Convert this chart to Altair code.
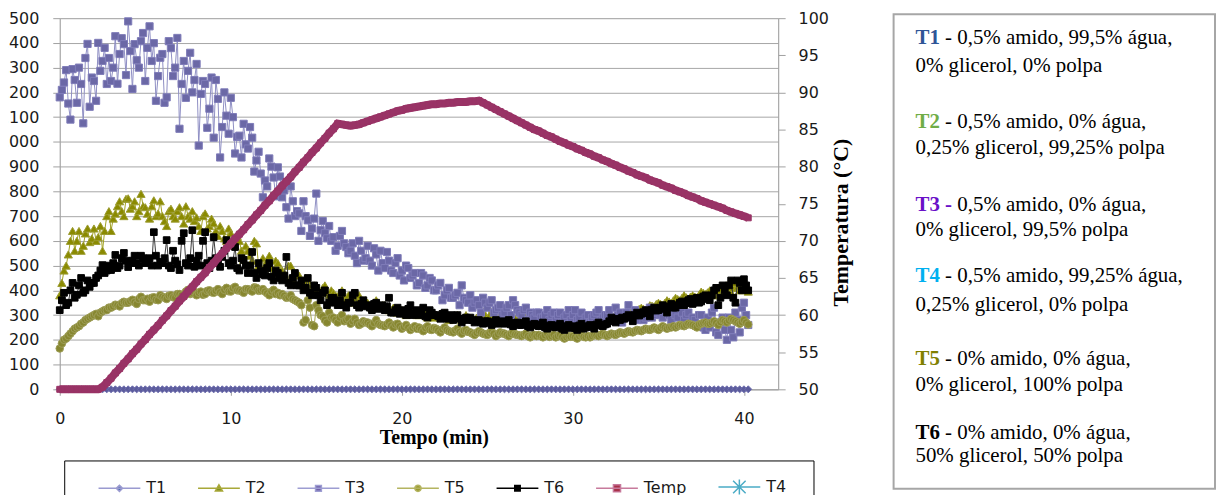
import altair as alt
import pandas as pd

# ---------------- data ----------------
N = 162
TIME = [i * 0.25 for i in range(N)]            # main readings, minutes
TIME_B = [0.125 + i * 0.25 for i in range(N - 1)]  # in-between readings, minutes

T1 = [0] * N

T2 = [380, 480, 545, 640,  600, 560, 630, 595,  650, 615, 560, 700,  640, 710, 760, 700,
      772, 740, 700, 790,  736, 690, 764, 711,  700, 660, 730, 690,  736, 670, 700, 720,
      695, 640, 711, 660,  671, 620, 640, 600,  631, 580, 600, 523,  560, 520, 590, 480,
      500, 540, 470, 510,  480, 450, 500, 430,  460, 420, 440, 400,  410, 390, 420, 380,
      390, 370, 400, 360,  370, 350, 380, 340,  350, 330, 360, 330,  340, 320, 330, 310,
      320, 300, 330, 310,  300, 320, 290, 310,  300, 290, 310, 280,  290, 300, 280, 300,
      290, 280, 300, 290,  338, 290, 280, 300,  290, 280, 300, 280,  285, 295, 280, 290,
      280, 270, 290, 280,  270, 280, 265, 275,  270, 260, 280, 270,  275, 265, 285, 280,
      290, 285, 300, 295,  310, 300, 320, 315,  330, 320, 340, 335,  350, 340, 360, 350,
      370, 360, 380, 365,  380, 370, 395, 385,  400, 380, 410, 390,  420, 390, 430, 400,
      410, 395]
T2_B = [430, 500, 600, 560,  640, 580, 650, 610,  600, 660, 640, 720,  690, 740, 720, 770,
        730, 760, 720, 740,  710, 740, 700, 760,  680, 720, 700, 720,  700, 740, 690, 680,
        660, 700, 650, 690,  640, 660, 610, 650,  600, 620, 560, 580,  540, 600, 500, 530,
        520, 490, 520, 480,  470, 500, 440, 470,  430, 450, 410, 420,  400, 410, 390, 400,
        380, 390, 370, 380,  360, 370, 350, 360,  340, 350, 330, 340,  330, 320, 320, 320,
        310, 320, 310, 300,  310, 300, 300, 290,  295, 300, 290, 290,  295, 290, 290, 285,
        285, 290, 295, 300,  300, 285, 290, 290,  285, 290, 285, 290,  290, 285, 285, 285,
        275, 280, 285, 275,  275, 270, 270, 270,  265, 270, 275, 272,  270, 275, 280, 285,
        288, 292, 298, 302,  305, 310, 318, 325,  325, 330, 338, 345,  345, 350, 355, 360,
        365, 370, 372, 375,  375, 382, 390, 392,  390, 395, 400, 405,  405, 410, 415, 420,
        405]

T3 = [1180, 1240, 1155, 1294,  1158, 1234, 1339, 1142,  1246, 1400, 1327, 1234,  1246, 1427, 1355, 1395,
      1487, 1214, 1330, 1407,  1246, 1467, 1399, 1266,  1355, 1180, 1379, 1300,  1053, 1327, 1287, 1200,
      1315, 1194, 1234, 1134,  1017, 1174, 1060, 1106,  1178, 953, 1025, 1073,  973, 1017, 925, 872,
      844, 933, 856, 897,  776, 736, 820, 700,  711, 760, 683, 650,  791, 643, 631, 660,
      615, 580, 640, 575,  560, 540, 600, 520,  580, 500, 545, 560,  490, 520, 470, 530,
      480, 500, 450, 470,  430, 460, 420, 440,  400, 430, 380, 410,  370, 390, 420, 360,
      380, 350, 340, 370,  330, 360, 320, 340,  310, 340, 360, 320,  300, 330, 310, 290,
      310, 290, 320, 300,  280, 310, 290, 320,  300, 280, 310, 290,  270, 300, 320, 290,
      300, 280, 330, 310,  290, 340, 300, 280,  310, 290, 330, 300,  320, 290, 310, 280,
      300, 330, 280, 310,  290, 260, 300, 240,  250, 330, 220, 290,  200, 240, 310, 230,
      350, 260]
T3_B = [1210, 1290, 1090, 1250,  1300, 1075, 1396, 1260,  1166, 1287, 1380, 1339,  1300, 1235, 1419, 1270,
        1367, 1395, 1300, 1440,  1380, 1327, 1166, 1340,  1158, 1407, 1266, 1420,  1234, 1178, 1360, 1250,
        985, 1246, 1057, 1260,  1250, 937, 1200, 1033,  1100, 1020, 937, 990,  1060, 880, 960, 776,
        820, 900, 780, 860,  804, 690, 760, 720,  640, 700, 620, 690,  600, 680, 610, 600,
        560, 620, 590, 550,  590, 510, 560, 530,  520, 570, 480, 510,  555, 480, 510, 460,
        440, 490, 460, 420,  470, 410, 450, 400,  420, 360, 400, 370,  380, 340, 370, 350,
        330, 360, 310, 350,  350, 310, 330, 300,  330, 300, 340, 310,  320, 280, 300, 310,
        290, 300, 280, 310,  300, 270, 300, 280,  320, 290, 270, 300,  290, 310, 280, 300,
        320, 290, 300, 270,  310, 290, 320, 300,  280, 320, 290, 310,  300, 330, 300, 320,
        290, 310, 300, 270,  280, 300, 250, 290,  310, 230, 270, 240,  290, 210, 280, 330,
        300]

T5 = [165, 200, 215, 235,  250, 265, 280, 290,  300, 295, 315, 320,  330, 342, 335, 354,
      350, 362, 345, 374,  360, 354, 372, 360,  374, 365, 380, 370,  385, 375, 402, 390,
      380, 395, 385, 400,  390, 405, 385, 410,  395, 414, 400, 390,  405, 395, 410, 400,
      395, 380, 402, 390,  385, 370, 380, 360,  350, 270, 360, 260,  340, 300, 280, 310,
      290, 270, 300, 280,  265, 285, 260, 275,  270, 255, 280, 260,  255, 270, 250, 265,
      245, 260, 240, 255,  250, 235, 255, 240,  245, 230, 250, 235,  230, 245, 225, 240,
      230, 220, 235, 225,  220, 235, 215, 230,  225, 215, 230, 220,  215, 225, 210, 220,
      220, 210, 225, 215,  210, 220, 205, 215,  215, 205, 220, 210,  210, 220, 215, 225,
      215, 225, 220, 230,  225, 235, 230, 240,  235, 245, 240, 250,  240, 255, 245, 250,
      250, 260, 255, 265,  260, 250, 265, 270,  265, 275, 260, 280,  270, 285, 275, 265,
      280, 262]
T5_B = [185, 205, 225, 245,  255, 270, 285, 295,  305, 310, 320, 330,  335, 340, 348, 350,
        356, 352, 365, 360,  366, 370, 362, 380,  370, 378, 372, 385,  380, 395, 385, 395,
        390, 382, 398, 392,  398, 392, 402, 396,  408, 400, 396, 405,  400, 412, 398, 405,
        388, 395, 385, 380,  378, 372, 365, 355,  340, 280, 330, 255,  320, 295, 270, 290,
        280, 290, 275, 285,  275, 270, 265, 270,  262, 268, 265, 258,  262, 258, 262, 255,
        252, 250, 248, 245,  242, 248, 242, 248,  238, 242, 240, 232,  238, 232, 236, 232,
        225, 228, 230, 222,  228, 225, 222, 226,  220, 224, 222, 218,  220, 215, 218, 215,
        215, 218, 212, 220,  215, 212, 210, 212,  210, 215, 212, 215,  215, 218, 220, 220,
        220, 222, 225, 228,  230, 232, 235, 238,  240, 242, 245, 245,  248, 250, 250, 255,
        255, 258, 260, 262,  255, 262, 268, 265,  270, 268, 272, 275,  278, 280, 270, 272,
        270]

T6 = [320, 390, 350, 430,  382, 450, 400, 414,  430, 460, 502, 480,  482, 543, 500, 551,
      494, 520, 510, 540,  510, 530, 635, 500,  510, 603, 490, 520,  482, 631, 500, 643,
      520, 500, 635, 490,  615, 510, 535, 603,  500, 575, 480, 523,  470, 555, 450, 480,
      460, 510, 440, 470,  440, 535, 420, 470,  420, 400, 450, 380,  410, 360, 400, 350,
      370, 340, 390, 330,  350, 390, 330, 360,  340, 320, 350, 330,  320, 370, 310, 330,
      320, 300, 340, 310,  300, 330, 290, 310,  300, 285, 310, 290,  280, 300, 270, 290,
      290, 270, 280, 265,  275, 260, 280, 270,  265, 280, 255, 270,  260, 275, 250, 265,
      255, 270, 245, 260,  250, 265, 240, 260,  255, 240, 265, 250,  260, 245, 270, 255,
      265, 290, 270, 280,  285, 300, 275, 310,  305, 320, 295, 330,  320, 340, 310, 345,
      330, 350, 340, 360,  345, 370, 355, 380,  360, 400, 340, 420,  380, 440, 350, 430,
      445, 400]
T6_B = [360, 340, 400, 370,  420, 390, 440, 430,  450, 480, 470, 500,  510, 490, 530, 520,
        510, 540, 500, 530,  520, 500, 540, 515,  530, 500, 560, 505,  600, 510, 530, 495,
        540, 600, 510, 520,  530, 495, 560, 510,  520, 490, 530, 500,  500, 470, 510, 465,
        490, 455, 480, 450,  460, 430, 450, 420,  440, 410, 390, 420,  380, 390, 340, 370,
        350, 360, 340, 350,  380, 340, 345, 335,  330, 345, 325, 340,  335, 310, 320, 305,
        315, 325, 300, 320,  315, 295, 320, 300,  295, 305, 285, 300,  295, 285, 285, 280,
        280, 275, 270, 275,  268, 272, 265, 275,  272, 262, 268, 260,  268, 255, 262, 258,
        262, 250, 258, 252,  258, 245, 255, 248,  248, 258, 245, 255,  252, 262, 258, 262,
        275, 280, 285, 290,  292, 290, 300, 298,  312, 308, 322, 318,  330, 325, 335, 330,
        340, 355, 348, 365,  360, 350, 375, 365,  380, 410, 370, 400,  420, 370, 440, 400,
        420]

TEMP = [50.0, 50.0, 50.0, 50.0,  50.0, 50.0, 50.0, 50.0,  50.0, 50.0, 50.3, 50.9,  51.5, 52.2, 52.8, 53.5,
        54.1, 54.8, 55.4, 56.1,  56.7, 57.4, 58.0, 58.6,  59.3, 59.9, 60.6, 61.2,  61.9, 62.5, 63.2, 63.8,
        64.5, 65.1, 65.7, 66.4,  67.0, 67.7, 68.3, 69.0,  69.6, 70.3, 70.9, 71.5,  72.2, 72.8, 73.5, 74.1,
        74.8, 75.4, 76.1, 76.7,  77.4, 78.0, 78.6, 79.3,  79.9, 80.6, 81.2, 81.9,  82.5, 83.2, 83.8, 84.5,
        85.1, 85.8, 85.7, 85.6,  85.5, 85.6, 85.7, 85.9,  86.1, 86.3, 86.5, 86.7,  86.9, 87.1, 87.3, 87.5,
        87.6, 87.8, 87.9, 88.0,  88.1, 88.2, 88.3, 88.4,  88.4, 88.5, 88.5, 88.6,  88.6, 88.7, 88.7, 88.7,
        88.8, 88.8, 88.9, 88.6,  88.3, 88.0, 87.7, 87.4,  87.1, 86.8, 86.5, 86.2,  85.9, 85.6, 85.3, 85.0,
        84.8, 84.5, 84.2, 84.0,  83.7, 83.4, 83.2, 82.9,  82.7, 82.4, 82.2, 81.9,  81.7, 81.4, 81.2, 80.9,
        80.7, 80.4, 80.2, 79.9,  79.7, 79.4, 79.2, 78.9,  78.7, 78.5, 78.2, 78.0,  77.8, 77.5, 77.3, 77.1,
        76.8, 76.6, 76.4, 76.1,  75.9, 75.7, 75.4, 75.2,  75.0, 74.8, 74.6, 74.4,  74.1, 73.9, 73.7, 73.5,
        73.3, 73.1]

LEGEND_NAMES = ["T1", "T2", "T3", "T5", "T6", "Temp", "T4"]
X_TICKS = [0, 10, 20, 30, 40]
LEFT_TICKS = list(range(0, 1501, 100))
RIGHT_TICKS = list(range(50, 101, 5))

TREATMENTS = [
    ("T1", "- 0,5% amido, 99,5% água,", "0% glicerol, 0% polpa"),
    ("T2", "- 0,5% amido, 0% água,", "0,25% glicerol, 99,25% polpa"),
    ("T3 -", "0,5% amido, 0% água,", "0% glicerol, 99,5% polpa"),
    ("T4", "- 0,5% amido, 99,25% água,", "0,25% glicerol, 0% polpa"),
    ("T5", "- 0% amido, 0% água,", "0% glicerol, 100% polpa"),
    ("T6", "- 0% amido, 0% água,", "50% glicerol, 50% polpa"),
]

# ---------------- styles ----------------
AXIS_GRAY = "#a0a0a0"
TICK_FONT = "DejaVu Sans"
SERIF = "Liberation Serif"

STYLE = {
    "T1": dict(line="#6e6eae", lw=4, shape="diamond", fill="#5c5c9c", stroke="#6e6eae", size=50),
    "T2": dict(line="#a0a020", lw=1.0, shape="triangle-up", fill="#8a8a00", stroke="#9c9c30", size=68),
    "T3": dict(line="#8e8ec4", lw=1.0, shape="square", fill="#6b68a6", stroke="#7f7cb8", size=52),
    "T5": dict(line="#a4a450", lw=1.0, shape="circle", fill="#878730", stroke="#9d9d58", size=58),
    "T6": dict(line="#3a3a3a", lw=1.0, shape="square", fill="#000000", stroke="#000000", size=45),
}
TEMP_STYLE = dict(line="#993366", lw=8, fill="#993366", stroke="#993366", size=36)

# legend symbols (line + marker), custom paths in [-1, 1]
LEG_SHAPE = ["M-1,0L1,0M0,-0.15L0.15,0L0,0.15L-0.15,0Z",
             "M-1,0L1,0M0,-0.17L0.17,0.13L-0.17,0.13Z",
             "M-1,0L1,0M-0.14,-0.14L0.14,-0.14L0.14,0.14L-0.14,0.14Z",
             "M-1,0L1,0M0.15,0A0.15,0.15,0,1,1,-0.15,0A0.15,0.15,0,1,1,0.15,0Z",
             "M-1,0L1,0M-0.13,-0.13L0.13,-0.13L0.13,0.13L-0.13,0.13Z",
             "M-1,0L1,0M-0.17,-0.17L0.17,-0.17L0.17,0.17L-0.17,0.17Z",
             "M-1,0L1,0M0,-0.36L0,0.36M-0.3,-0.3L0.3,0.3M-0.3,0.3L0.3,-0.3"]
LEG_STROKE = ["#9a9ad0", "#a8a838", "#9d9dd2", "#b4b460", "#000000", "#c77a9c", "#4bacc6"]
LEG_FILL = ["#4f6fb0", "#7f8f20", "#6f60a8", "#9a9a30", "#000000", "#a83048", "transparent"]
LEG_SW = [1.5, 1.5, 1.5, 1.5, 1.5, 1.5, 4]

# ---------------- axes ----------------
x_axis = alt.Axis(values=X_TICKS, title="Tempo (min)", grid=False, domainColor=AXIS_GRAY,
                  tickColor=AXIS_GRAY, tickSize=6, labelPadding=15, labelFont=TICK_FONT,
                  labelFontSize=16, labelColor="#1a1a1a", labelFlush=False, labelOverlap=False,
                  titleFont=SERIF, titleFontSize=20, titleFontWeight="bold", titleColor="#000000",
                  titleX=376, titleY=54, titleBaseline="alphabetic", titleAlign="center")
left_axis = alt.Axis(values=LEFT_TICKS, title=None, grid=True, gridColor="#a6a6a6", gridWidth=1,
                     domainColor=AXIS_GRAY, tickColor=AXIS_GRAY, tickSize=7, labelPadding=14,
                     labelFont=TICK_FONT, labelFontSize=16, labelColor="#1a1a1a",
                     labelOverlap=False, labelFlush=False)
right_axis = alt.Axis(orient="right", values=RIGHT_TICKS, grid=False, title="Temperatura (°C)",
                      domainColor=AXIS_GRAY, tickColor=AXIS_GRAY, tickSize=7, labelPadding=13,
                      labelFont=TICK_FONT, labelFontSize=16, labelColor="#1a1a1a",
                      labelOverlap=False, labelFlush=False,
                      titleFont=SERIF, titleFontSize=22, titleFontWeight="bold", titleColor="#000000",
                      titleAngle=270, titleX=70, titleY=205, titleAlign="center",
                      titleBaseline="alphabetic")

xs = alt.Scale(domain=[0, 42], nice=False, zero=False)
ys_left = alt.Scale(domain=[0, 1500], nice=False)
ys_right = alt.Scale(domain=[50, 100], nice=False, zero=False)

legend = alt.Legend(
    orient="none", legendX=38, legendY=449, direction="horizontal", columns=7, title=None,
    symbolSize=1764, labelOffset=5, columnPadding=29, padding=0, labelFont=TICK_FONT,
    labelFontSize=16, labelColor="#1a1a1a", symbolLimit=0, symbolOpacity=1,
)

# ---------------- left-axis series ----------------
SERIES = {"T1": (T1, None), "T2": (T2, T2_B), "T3": (T3, T3_B), "T5": (T5, T5_B), "T6": (T6, T6_B)}
left_layers = []
for name in ["T1", "T2", "T3", "T5", "T6"]:
    st = STYLE[name]
    a, b = SERIES[name]
    df = pd.DataFrame({"t": TIME, "v": a})
    if b is not None:
        df = pd.concat([df, pd.DataFrame({"t": TIME_B, "v": b})]).sort_values("t")
    base = alt.Chart(df)
    line = base.mark_line(color=st["line"], strokeWidth=st["lw"]).encode(
        x=alt.X("t:Q", scale=xs, axis=x_axis),
        y=alt.Y("v:Q", scale=ys_left, axis=left_axis),
        order="t:Q",
    )
    pts = base.mark_point(shape=st["shape"], filled=True, fill=st["fill"], stroke=st["stroke"],
                          strokeWidth=1, size=st["size"], opacity=1).encode(
        x=alt.X("t:Q", scale=xs, axis=x_axis),
        y=alt.Y("v:Q", scale=ys_left, axis=left_axis),
    )
    left_layers += [line, pts]

left = alt.layer(*left_layers)

# ---------------- right-axis temperature ----------------
temp_df = pd.DataFrame({"t": TIME, "temp": TEMP})
tbase = alt.Chart(temp_df)
right = alt.layer(
    tbase.mark_line(color=TEMP_STYLE["line"], strokeWidth=TEMP_STYLE["lw"]).encode(
        x=alt.X("t:Q", scale=xs, axis=x_axis),
        y=alt.Y("temp:Q", scale=ys_right, axis=right_axis)),
    tbase.mark_point(shape="square", filled=True, fill=TEMP_STYLE["fill"], stroke=TEMP_STYLE["stroke"],
                     strokeWidth=1, size=TEMP_STYLE["size"], opacity=1).encode(
        x=alt.X("t:Q", scale=xs, axis=x_axis),
        y=alt.Y("temp:Q", scale=ys_right, axis=right_axis)),
)

# ---------------- legend (symbols drawn only in the legend) ----------------
leg_df = pd.DataFrame({"series": LEGEND_NAMES})
legend_layer = alt.Chart(leg_df).mark_point(filled=True, size=1764, opacity=1).encode(
    x=alt.value(-3000), y=alt.value(-3000),
    shape=alt.Shape("series:N", scale=alt.Scale(domain=LEGEND_NAMES, range=LEG_SHAPE), legend=legend),
    fill=alt.Fill("series:N", scale=alt.Scale(domain=LEGEND_NAMES, range=LEG_FILL), legend=legend),
    stroke=alt.Stroke("series:N", scale=alt.Scale(domain=LEGEND_NAMES, range=LEG_STROKE), legend=legend),
    strokeWidth=alt.StrokeWidth("series:N", scale=alt.Scale(domain=LEGEND_NAMES, range=LEG_SW), legend=legend),
)

# ---------------- boxes and text ----------------
one = alt.Data(values=[{}])
legend_box = alt.Chart(one).mark_rect(fill="white", stroke="#000000", strokeWidth=1).encode(
    x=alt.value(5), x2=alt.value(758), y=alt.value(445), y2=alt.value(530))
text_box = alt.Chart(one).mark_rect(fill="white", stroke="#a6a6a6", strokeWidth=2).encode(
    x=alt.value(838), x2=alt.value(1161), y=alt.value(-4), y2=alt.value(473))

T_COLORS = {"T1": "#2f5597", "T2": "#70ad47", "T3 -": "#6a10c8", "T4": "#00b0f0",
            "T5": "#808000", "T6": "#000000"}
BASELINES = [(26, 54), (110, 137), (194, 219), (265, 294), (349, 375), (423, 446)]
TX = 860
SPACE_W = 5.25
texts = []
for (head, rest, line2), (b1, b2) in zip(TREATMENTS, BASELINES):
    head_w = 36.75 if head.endswith("-") else 24.5
    texts.append(alt.Chart(one).mark_text(align="left", baseline="alphabetic", font=SERIF,
                                          fontSize=21, fontWeight="bold", color=T_COLORS[head]).encode(
        x=alt.value(TX), y=alt.value(b1), text=alt.value(head)))
    texts.append(alt.Chart(one).mark_text(align="left", baseline="alphabetic", font=SERIF,
                                          fontSize=21, color="#000000").encode(
        x=alt.value(TX + head_w + SPACE_W), y=alt.value(b1), text=alt.value(rest)))
    texts.append(alt.Chart(one).mark_text(align="left", baseline="alphabetic", font=SERIF,
                                          fontSize=21, color="#000000").encode(
        x=alt.value(TX), y=alt.value(b2), text=alt.value(line2)))

chart = alt.layer(legend_box, text_box, left, right, legend_layer, *texts).resolve_scale(
    y="independent"
).properties(
    width=722, height=373,
    autosize=alt.AutoSizeParams(type="none"),
    padding={"left": 52, "top": 9, "right": 440, "bottom": 105},
).configure_view(stroke=None).configure(background="white")

chart.save("out.html", embed_options={"renderer": "svg", "actions": False})
